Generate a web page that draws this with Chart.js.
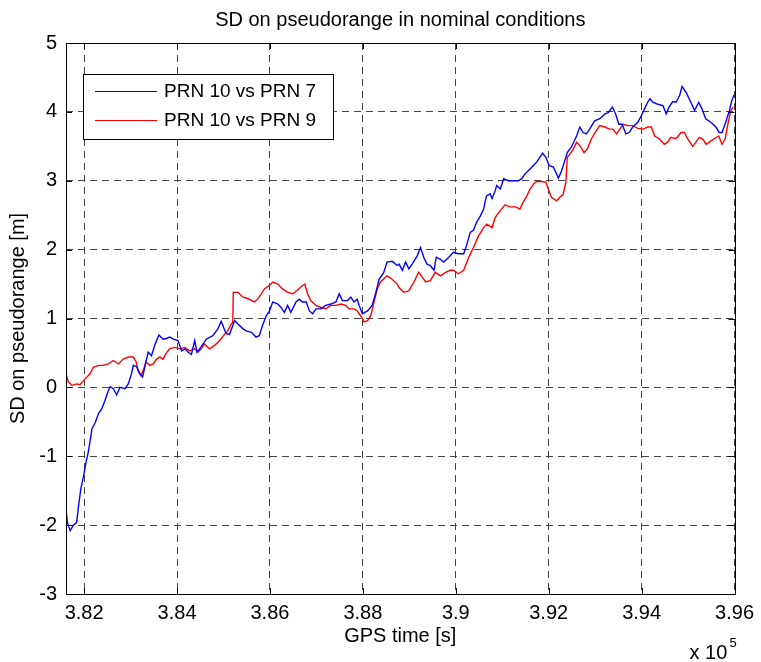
<!DOCTYPE html>
<html>
<head>
<meta charset="utf-8">
<title>SD on pseudorange</title>
<script src="https://cdn.jsdelivr.net/npm/chart.js@4/dist/chart.umd.min.js"></script>
<style>
  html, body { margin: 0; padding: 0; background: #fff; }
  #wrap { width: 761px; height: 662px; }
</style>
</head>
<body>
<div id="wrap"><canvas id="sdChart" width="761" height="662"></canvas></div>
<script>
// GPS time in seconds, SD values in metres
const prn7Time = [381610, 381640, 381700, 381770, 381840, 381880, 381930, 381990, 382040, 382090,
  382170, 382240, 382310, 382380, 382450, 382520, 382560, 382630, 382700, 382770,
  382880, 382950, 383020, 383060, 383130, 383200, 383260, 383330, 383380, 383450,
  383520, 383610, 383700, 383770, 383840, 383920, 384020, 384100, 384170, 384240,
  384310, 384380, 384430, 384490, 384630, 384770, 384880, 384950, 385020, 385060,
  385130, 385240, 385310, 385420, 385490, 385600, 385700, 385770, 385840, 385920,
  385990, 386060, 386170, 386240, 386310, 386380, 386450, 386560, 386630, 386700,
  386780, 386850, 386920, 386990, 387100, 387200, 387310, 387420, 387490, 387560,
  387670, 387740, 387810, 387880, 387920, 387990, 388100, 388200, 388280, 388350,
  388450, 388520, 388630, 388740, 388780, 388850, 388920, 388990, 389060, 389170,
  389240, 389310, 389380, 389450, 389530, 389580, 389670, 389740, 389850, 389950,
  390060, 390170, 390240, 390310, 390380, 390450, 390530, 390600, 390660, 390740,
  390780, 390850, 390880, 390960, 391030, 391130, 391240, 391350, 391420, 391490,
  391600, 391670, 391740, 391810, 391870, 391940, 392010, 392100, 392210, 392280,
  392350, 392400, 392490, 392600, 392670, 392740, 392810, 392880, 392990, 393100,
  393210, 393280, 393370, 393440, 393510, 393580, 393660, 393730, 393810, 393920,
  393990, 394060, 394130, 394180, 394240, 394350, 394460, 394530, 394590, 394670,
  394740, 394820, 394870, 394960, 395060, 395140, 395230, 395300, 395380, 395490,
  395600, 395670, 395730, 395810, 395890, 395940, 395990];
const prn7SD = [-1.76, -1.96, -2.08, -2.00, -1.96, -1.72, -1.47, -1.28, -1.09, -0.94,
  -0.60, -0.51, -0.38, -0.31, -0.19, -0.05, 0.01, -0.02, -0.11, 0.00,
  -0.02, 0.05, 0.20, 0.32, 0.30, 0.20, 0.15, 0.37, 0.51, 0.46,
  0.61, 0.76, 0.70, 0.71, 0.73, 0.70, 0.68, 0.53, 0.56, 0.51,
  0.48, 0.68, 0.51, 0.56, 0.70, 0.75, 0.85, 0.96, 0.84, 0.78,
  0.77, 0.97, 0.92, 0.85, 0.82, 0.80, 0.73, 0.75, 0.90, 1.04,
  1.11, 1.24, 1.21, 1.16, 1.09, 1.19, 1.09, 1.24, 1.28, 1.24,
  1.24, 1.11, 1.07, 1.14, 1.14, 1.19, 1.21, 1.24, 1.36, 1.26,
  1.26, 1.31, 1.24, 1.28, 1.19, 1.07, 1.11, 1.19, 1.38, 1.57,
  1.67, 1.82, 1.83, 1.77, 1.79, 1.70, 1.82, 1.72, 1.79, 1.91,
  2.03, 1.89, 1.79, 1.77, 1.70, 1.89, 1.86, 1.82, 1.89, 1.96,
  1.94, 1.94, 2.08, 2.25, 2.28, 2.40, 2.49, 2.59, 2.78, 2.81,
  2.74, 2.86, 2.93, 2.88, 3.03, 3.00, 3.00, 3.00, 3.03, 3.10,
  3.17, 3.22, 3.27, 3.34, 3.40, 3.34, 3.22, 3.20, 3.04, 3.15,
  3.30, 3.41, 3.49, 3.65, 3.78, 3.70, 3.68, 3.75, 3.87, 3.90,
  3.97, 3.99, 4.07, 3.97, 3.82, 3.82, 3.68, 3.70, 3.78, 3.85,
  3.94, 4.04, 4.14, 4.19, 4.14, 4.11, 4.09, 3.97, 4.07, 4.15,
  4.14, 4.24, 4.37, 4.28, 4.14, 4.02, 4.14, 4.04, 3.90, 3.85,
  3.78, 3.70, 3.70, 3.85, 4.02, 4.16, 4.25];

const prn9Time = [381610, 381660, 381740, 381840, 381910, 382020, 382130, 382200, 382310, 382410,
  382520, 382630, 382740, 382840, 382950, 383060, 383120, 383160, 383220, 383270,
  383330, 383420, 383490, 383560, 383630, 383700, 383760, 383840, 383950, 384060,
  384170, 384270, 384380, 384450, 384520, 384590, 384700, 384810, 384920, 385020,
  385090, 385170, 385200, 385210, 385310, 385420, 385520, 385670, 385770, 385880,
  385990, 386060, 386170, 386270, 386380, 386490, 386590, 386700, 386750, 386810,
  386880, 386990, 387100, 387200, 387310, 387420, 387530, 387630, 387700, 387810,
  387880, 387950, 388030, 388100, 388170, 388240, 388310, 388380, 388520, 388630,
  388740, 388780, 388880, 388990, 389100, 389200, 389280, 389350, 389450, 389560,
  389670, 389780, 389880, 389950, 390060, 390170, 390280, 390380, 390490, 390600,
  390670, 390780, 390850, 390960, 391060, 391170, 391280, 391380, 391450, 391530,
  391600, 391670, 391740, 391850, 391940, 391990, 392060, 392170, 392240, 392310,
  392370, 392400, 392460, 392530, 392600, 392670, 392760, 392830, 392920, 393030,
  393100, 393210, 393310, 393380, 393460, 393530, 393600, 393710, 393810, 393920,
  394030, 394130, 394210, 394280, 394380, 394490, 394560, 394630, 394740, 394850,
  394920, 394990, 395100, 395170, 395240, 395310, 395390, 395460, 395560, 395660,
  395730, 395800, 395850, 395920, 395970];
const prn9SD = [0.20, 0.08, 0.03, 0.05, 0.04, 0.12, 0.20, 0.29, 0.32, 0.32,
  0.34, 0.39, 0.34, 0.41, 0.44, 0.44, 0.37, 0.24, 0.17, 0.24,
  0.37, 0.32, 0.34, 0.41, 0.44, 0.41, 0.49, 0.56, 0.58, 0.56,
  0.58, 0.53, 0.56, 0.51, 0.56, 0.63, 0.56, 0.61, 0.68, 0.77,
  0.82, 0.92, 0.94, 1.38, 1.38, 1.31, 1.29, 1.24, 1.31, 1.43,
  1.48, 1.53, 1.50, 1.43, 1.38, 1.36, 1.41, 1.48, 1.50, 1.36,
  1.26, 1.19, 1.16, 1.14, 1.19, 1.19, 1.21, 1.19, 1.14, 1.14,
  1.11, 1.04, 0.95, 0.97, 1.04, 1.24, 1.43, 1.53, 1.62, 1.57,
  1.50, 1.45, 1.38, 1.40, 1.53, 1.67, 1.60, 1.53, 1.55, 1.67,
  1.62, 1.67, 1.70, 1.70, 1.65, 1.70, 1.89, 2.03, 2.20, 2.32,
  2.37, 2.32, 2.47, 2.57, 2.65, 2.62, 2.62, 2.59, 2.69, 2.78,
  2.88, 2.95, 2.99, 2.99, 2.98, 2.88, 2.76, 2.71, 2.76, 2.80,
  2.98, 3.34, 3.39, 3.46, 3.56, 3.51, 3.41, 3.46, 3.61, 3.73,
  3.80, 3.78, 3.75, 3.75, 3.68, 3.75, 3.82, 3.80, 3.80, 3.76,
  3.75, 3.78, 3.78, 3.65, 3.61, 3.53, 3.56, 3.63, 3.61, 3.70,
  3.70, 3.61, 3.50, 3.56, 3.63, 3.61, 3.53, 3.56, 3.61, 3.65,
  3.53, 3.61, 3.80, 4.02, 4.07];

const seriesLabels = ['PRN 10 vs PRN 7', 'PRN 10 vs PRN 9'];
const xTicks = [382000, 384000, 386000, 388000, 390000, 392000, 394000, 396000];
const yTicks = [-3, -2, -1, 0, 1, 2, 3, 4, 5];
const titleText = 'SD on pseudorange in nominal conditions';

const FONT = 'Liberation Sans, Arial, Helvetica, sans-serif';

function toPoints(times, vals) {
  return times.map((t, i) => ({ x: t, y: vals[i] }));
}

// title over the axes, frame, inward ticks, legend box and the x 10^5 multiplier
const matlabLook = {
  id: 'matlabLook',
  afterDraw(chart) {
    const ctx = chart.ctx;
    const a = chart.chartArea;
    const xs = chart.scales.x, ys = chart.scales.y;
    ctx.save();

    ctx.fillStyle = '#000';
    ctx.font = '20px ' + FONT;
    ctx.textAlign = 'center';
    ctx.textBaseline = 'middle';
    ctx.fillText(titleText, (a.left + a.right) / 2, 20);

    ctx.strokeStyle = '#000';
    ctx.lineWidth = 1;
    ctx.setLineDash([]);
    ctx.strokeRect(Math.round(a.left) + 0.5, Math.round(a.top) + 0.5,
      Math.round(a.right - a.left), Math.round(a.bottom - a.top));

    const tl = 6;
    ctx.beginPath();
    xTicks.forEach(v => {
      const px = Math.round(xs.getPixelForValue(v)) + 0.5;
      ctx.moveTo(px, a.bottom); ctx.lineTo(px, a.bottom - tl);
      ctx.moveTo(px, a.top); ctx.lineTo(px, a.top + tl);
    });
    yTicks.forEach(v => {
      const py = Math.round(ys.getPixelForValue(v)) + 0.5;
      ctx.moveTo(a.left, py); ctx.lineTo(a.left + tl, py);
      ctx.moveTo(a.right, py); ctx.lineTo(a.right - tl, py);
    });
    ctx.stroke();

    // legend
    const lx = a.left + 17, ly = a.top + 31, lw = 250, lh = 65;
    ctx.fillStyle = '#fff';
    ctx.fillRect(lx, ly, lw, lh);
    ctx.strokeStyle = '#000';
    ctx.strokeRect(Math.round(lx) + 0.5, Math.round(ly) + 0.5, lw, lh);
    ctx.font = '19px ' + FONT;
    ctx.textBaseline = 'middle';
    ctx.textAlign = 'left';
    chart.data.datasets.forEach((ds, i) => {
      const y = ly + 17 + i * 29;
      ctx.strokeStyle = ds.borderColor;
      ctx.lineWidth = 1;
      ctx.beginPath();
      ctx.moveTo(lx + 12, y + 0.5);
      ctx.lineTo(lx + 74, y + 0.5);
      ctx.stroke();
      ctx.fillStyle = '#000';
      ctx.fillText(ds.label, lx + 81, y + 1);
    });

    // exponent label
    ctx.fillStyle = '#000';
    ctx.font = '20px ' + FONT;
    ctx.textBaseline = 'alphabetic';
    ctx.fillText('x 10', a.right - 45, 659);
    ctx.font = '13px ' + FONT;
    ctx.fillText('5', a.right - 5, 647);
    ctx.restore();
  }
};

Chart.defaults.font.family = FONT;
Chart.defaults.font.size = 20;
Chart.defaults.color = '#000';

new Chart(document.getElementById('sdChart'), {
  type: 'line',
  data: {
    datasets: [
      {
        label: seriesLabels[0],
        data: toPoints(prn7Time, prn7SD),
        borderColor: '#0000ff',
        borderWidth: 1.4,
        pointRadius: 0,
        tension: 0
      },
      {
        label: seriesLabels[1],
        data: toPoints(prn9Time, prn9SD),
        borderColor: '#ff0000',
        borderWidth: 1.4,
        pointRadius: 0,
        tension: 0
      }
    ]
  },
  options: {
    responsive: false,
    animation: false,
    events: [],
    layout: { padding: { left: 0, right: 23, top: 43, bottom: 0 } },
    plugins: {
      legend: { display: false },
      tooltip: { enabled: false },
      title: { display: false }
    },
    scales: {
      x: {
        type: 'linear',
        min: 381610,
        max: 396000,
        afterBuildTicks: (axis) => { axis.ticks = xTicks.map(v => ({ value: v })); },
        afterFit: (axis) => { axis.height = 68; },
        ticks: {
          padding: 7,
          maxRotation: 0,
          autoSkip: false,
          callback: (v) => String(+(v / 1e5).toFixed(2))
        },
        grid: { color: '#444', lineWidth: 1, drawTicks: false },
        border: { display: false, dash: [7, 5] },
        title: {
          display: true,
          text: 'GPS time [s]',
          padding: { top: 0, bottom: 14 }
        }
      },
      y: {
        min: -3,
        max: 5,
        afterBuildTicks: (axis) => { axis.ticks = yTicks.map(v => ({ value: v })); },
        afterFit: (axis) => { axis.width = 66; },
        ticks: {
          padding: 9,
          callback: (v) => String(v)
        },
        grid: { color: '#444', lineWidth: 1, drawTicks: false },
        border: { display: false, dash: [7, 5] },
        title: {
          display: true,
          text: 'SD on pseudorange [m]',
          padding: { top: 6, bottom: 0 }
        }
      }
    }
  },
  plugins: [matlabLook]
});
</script>
</body>
</html>
